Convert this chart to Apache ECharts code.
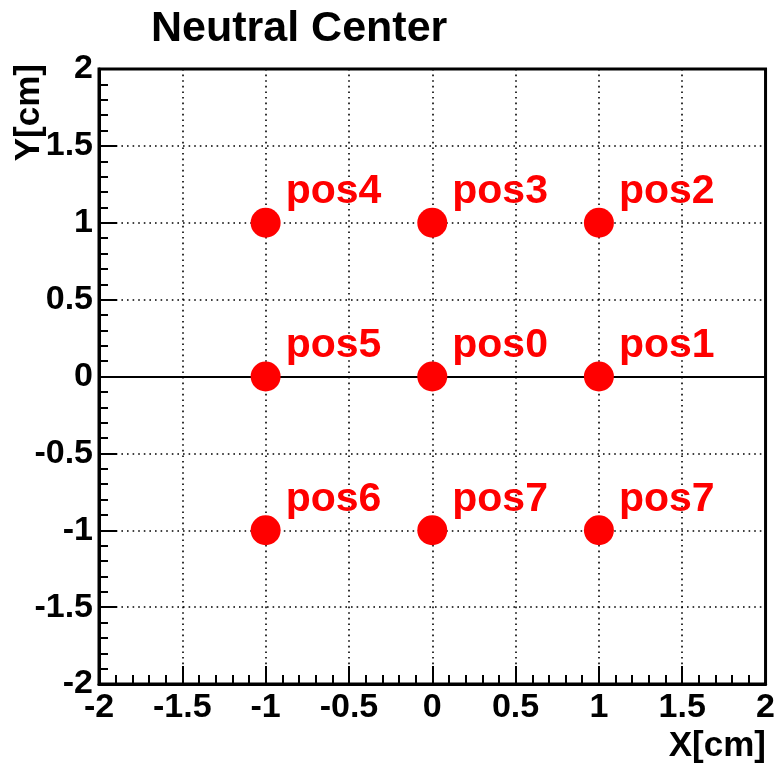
<!DOCTYPE html>
<html>
<head>
<meta charset="utf-8">
<script src="https://cdn.jsdelivr.net/npm/echarts@6/dist/echarts.min.js"></script>
<style>
  html, body { margin: 0; padding: 0; background: #fff; }
  #main { width: 778px; height: 768px; }
</style>
</head>
<body>
<div id="main"></div>
<script>
// positions of the neutral center scan
var posX = [-1, 0, 1, -1, 0, 1, -1, 0, 1];
var posY = [1, 1, 1, 0, 0, 0, -1, -1, -1];
var posNames = ['pos4', 'pos3', 'pos2', 'pos5', 'pos0', 'pos1', 'pos6', 'pos7', 'pos7'];
var axisRange = [-2, 2];

var points = posX.map(function (x, i) {
  return { name: posNames[i], value: [x, posY[i]] };
});

var font = 'Liberation Sans, Arial, Helvetica, sans-serif';
var chart = echarts.init(document.getElementById('main'));

function axis(pos) {
  return {
    type: 'value',
    position: pos,
    min: axisRange[0],
    max: axisRange[1],
    interval: 0.5,
    axisLine: { show: true, onZero: false, lineStyle: { color: '#000', width: 3 } },
    axisTick: { show: true, inside: true, length: 18, lineStyle: { color: '#000', width: 2 } },
    minorTick: { show: true, splitNumber: 5, length: 9, lineStyle: { color: '#000', width: 2 } },
    splitLine: { show: true, lineStyle: { color: '#000', width: 1.6, type: [1.6, 4] } },
    axisLabel: {
      color: '#000',
      fontFamily: font,
      fontWeight: 'bold',
      fontSize: 34,
      margin: pos === 'left' ? 6 : 7,
      showMinLabel: true,
      showMaxLabel: true
    }
  };
}

chart.setOption({
  animation: false,
  backgroundColor: '#fff',
  title: {
    text: 'Neutral Center',
    left: 146,
    top: 3,
    textStyle: { color: '#000', fontFamily: font, fontWeight: 'bold', fontSize: 43 }
  },
  grid: {
    left: 99,
    right: 11,
    top: 69,
    bottom: 84,
    show: true,
    borderColor: '#000',
    borderWidth: 3
  },
  xAxis: axis('bottom'),
  yAxis: axis('left'),
  graphic: [
    {
      type: 'text',
      right: 12,
      top: 729,
      style: { text: 'X[cm]', fill: '#000', font: 'bold 35px ' + font }
    },
    {
      type: 'text',
      x: 47,
      y: 64,
      rotation: Math.PI / 2,
      style: { text: 'Y[cm]', fill: '#000', font: 'bold 35px ' + font, align: 'right', verticalAlign: 'bottom' }
    }
  ],
  series: [
    {
      type: 'scatter',
      symbol: 'circle',
      symbolSize: 30,
      itemStyle: { color: '#ff0000', opacity: 1 },
      data: points,
      label: {
        show: true,
        formatter: '{b}',
        position: [35, -16],
        verticalAlign: 'middle',
        align: 'left',
        color: '#ff0000',
        fontFamily: font,
        fontWeight: 'bold',
        fontSize: 41
      },
      emphasis: { disabled: true },
      markLine: {
        silent: true,
        symbol: 'none',
        label: { show: false },
        lineStyle: { color: '#000', width: 2, type: 'solid', opacity: 1 },
        data: [{ yAxis: 0 }]
      },
      z: 5
    }
  ]
});
</script>
</body>
</html>
